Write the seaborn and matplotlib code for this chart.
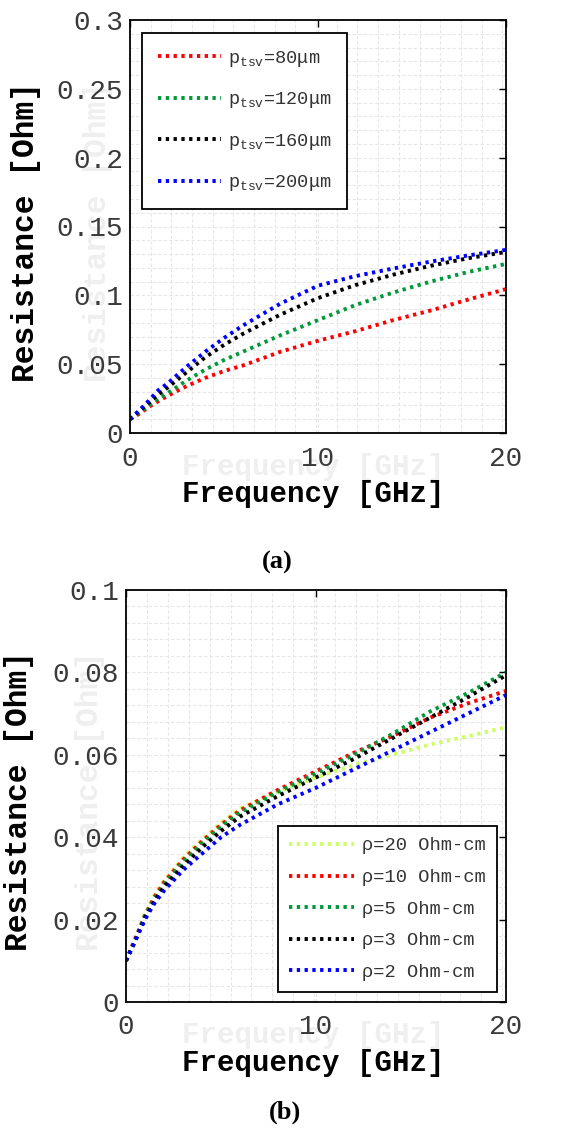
import matplotlib
matplotlib.use("Agg")
import matplotlib.pyplot as plt
import seaborn as sns
import pandas as pd
from matplotlib.ticker import FixedLocator, FixedFormatter, MultipleLocator

# ---------------- data ----------------
freq = [0, 0.5, 1, 1.5, 2, 3, 4, 5, 6, 8, 10, 12, 14, 16, 18, 20]

# panel (a): TSV pitch
a_labels = ["p$_{tsv}$=80μm", "p$_{tsv}$=120μm", "p$_{tsv}$=160μm", "p$_{tsv}$=200μm"]
a_p80 = [0.010, 0.014, 0.019, 0.023, 0.027, 0.034, 0.040, 0.045, 0.049, 0.059, 0.067, 0.074, 0.082, 0.089, 0.097, 0.1045]
a_p120 = [0.010, 0.015, 0.020, 0.025, 0.029, 0.038, 0.046, 0.053, 0.059, 0.071, 0.082, 0.093, 0.102, 0.110, 0.117, 0.1228]
a_p160 = [0.010, 0.016, 0.022, 0.028, 0.033, 0.044, 0.055, 0.064, 0.072, 0.086, 0.098, 0.1075, 0.115, 0.1215, 0.127, 0.1315]
a_p200 = [0.010, 0.0165, 0.0235, 0.031, 0.036, 0.048, 0.059, 0.069, 0.078, 0.094, 0.107, 0.114, 0.1195, 0.1245, 0.129, 0.133]
a_colors = ["#ff0000", "#00993a", "#000000", "#0000ff"]
a_yticks = [0, 0.05, 0.1, 0.15, 0.2, 0.25, 0.3]
a_yticklabels = ["0", "0.05", "0.1", "0.15", "0.2", "0.25", "0.3"]

# panel (b): substrate resistivity
b_labels = ["ρ=20 Ohm-cm", "ρ=10 Ohm-cm", "ρ=5 Ohm-cm", "ρ=3 Ohm-cm", "ρ=2 Ohm-cm"]
b_r20 = [0.010, 0.0155, 0.0215, 0.026, 0.0295, 0.035, 0.0395, 0.0435, 0.047, 0.051, 0.0545, 0.0575, 0.060, 0.0625, 0.0645, 0.0667]
b_r10 = [0.010, 0.0155, 0.021, 0.0255, 0.029, 0.0345, 0.039, 0.043, 0.0465, 0.0515, 0.056, 0.0605, 0.0645, 0.069, 0.0725, 0.0755]
b_r5 = [0.010, 0.015, 0.021, 0.025, 0.0285, 0.034, 0.0385, 0.0425, 0.046, 0.051, 0.0555, 0.060, 0.065, 0.0705, 0.075, 0.080]
b_r3 = [0.010, 0.015, 0.0205, 0.0245, 0.028, 0.033, 0.0375, 0.0415, 0.045, 0.050, 0.0545, 0.059, 0.064, 0.069, 0.074, 0.0793]
b_r2 = [0.010, 0.015, 0.020, 0.024, 0.027, 0.032, 0.036, 0.040, 0.043, 0.048, 0.052, 0.0565, 0.061, 0.0655, 0.070, 0.0745]
b_colors = ["#ccff66", "#ff0000", "#00993a", "#000000", "#0000ff"]
b_yticks = [0, 0.02, 0.04, 0.06, 0.08, 0.1]
b_yticklabels = ["0", "0.02", "0.04", "0.06", "0.08", "0.1"]

xticks = [0, 10, 20]
xticklabels = ["0", "10", "20"]
xlabel = "Frequency [GHz]"
ylabel = "Resistance [Ohm]"

# ---------------- style ----------------
sns.set_theme(style="white")
plt.rcParams["font.family"] = ["Liberation Mono", "DejaVu Sans Mono"]
plt.rcParams["mathtext.default"] = "regular"
plt.rcParams["mathtext.fontset"] = "custom"
plt.rcParams["mathtext.rm"] = "Liberation Mono"

fig = plt.figure(figsize=(5.72, 11.3), dpi=100)
W, H = 572, 1130


def make_axes(l, r, t, b):
    return fig.add_axes([l / W, 1 - b / H, (r - l) / W, (b - t) / H])


ax_a = make_axes(130, 506, 20, 433)
ax_b = make_axes(126, 506, 590, 1002)

dash = (0, (0.85, 1.15))


def draw(ax, series, labels, colors):
    for vals, lab, col in zip(series, labels, colors):
        df = pd.DataFrame({"f": freq, "r": vals})
        sns.lineplot(data=df, x="f", y="r", ax=ax, color=col, label=lab,
                     linewidth=2.8, linestyle=dash, solid_capstyle="butt",
                     dash_capstyle="butt", errorbar=None)


def style_axes(ax, yticks, yticklabels, ymax, yminor):
    ax.set_xlim(0, 20)
    ax.set_ylim(0, ymax)
    ax.xaxis.set_major_locator(FixedLocator(xticks))
    ax.xaxis.set_major_formatter(FixedFormatter(xticklabels))
    ax.yaxis.set_major_locator(FixedLocator(yticks))
    ax.yaxis.set_major_formatter(FixedFormatter(yticklabels))
    ax.xaxis.set_minor_locator(MultipleLocator(1.1))
    ax.yaxis.set_minor_locator(MultipleLocator(yminor))
    ax.grid(True, which="both", color="#e6e6e6", linestyle=(0, (3, 2)), linewidth=0.8)
    ax.set_axisbelow(True)
    ax.tick_params(which="major", direction="in", length=5, width=1.0, color="black",
                   top=True, right=True, labelsize=20, labelcolor="#3a3a3a")
    ax.tick_params(axis="x", which="major", pad=9)
    ax.tick_params(axis="y", which="major", pad=5)
    ax.tick_params(which="minor", length=0)
    for s in ax.spines.values():
        s.set_color("black")
        s.set_linewidth(1.3)
        s.set_visible(True)
    ax.set_xlabel("")
    ax.set_ylabel("")


draw(ax_a, [a_p80, a_p120, a_p160, a_p200], a_labels, a_colors)
draw(ax_b, [b_r20, b_r10, b_r5, b_r3, b_r2], b_labels, b_colors)
style_axes(ax_a, a_yticks, a_yticklabels, 0.3, 0.01)
style_axes(ax_b, b_yticks, b_yticklabels, 0.1, 0.004)

# legends
leg_a = ax_a.legend(loc="upper left", bbox_to_anchor=((142 - 130) / 376, (433 - 33) / 413),
                    borderaxespad=0, fancybox=False, framealpha=1, edgecolor="black",
                    fontsize=13.4, handlelength=3.4, labelspacing=1.15,
                    borderpad=0.85, handletextpad=0.38, labelcolor="#333333")
leg_a.get_frame().set_linewidth(1.3)
leg_b = ax_b.legend(loc="lower right", bbox_to_anchor=((497 - 126) / 380, (1002 - 992) / 412),
                    borderaxespad=0, fancybox=False, framealpha=1, edgecolor="black",
                    fontsize=13.5, handlelength=3.45, labelspacing=0.77,
                    borderpad=0.6, handletextpad=0.45, labelcolor="#333333")
leg_b.get_frame().set_linewidth(1.3)

# axis labels (faint duplicate + real)
bold = dict(fontweight="bold", family=["Liberation Mono", "DejaVu Sans Mono"])
ghost = "#efefef"
fig.text(313 / W, 1 - 467 / H, xlabel, ha="center", va="center", fontsize=21, color=ghost, zorder=-1, **bold)
fig.text(313 / W, 1 - 494 / H, xlabel, ha="center", va="center", fontsize=21, color="black", **bold)
fig.text(98 / W, 1 - 232 / H, ylabel, ha="center", va="center", rotation=90, fontsize=22.5, color=ghost, zorder=-1, **bold)
fig.text(26 / W, 1 - 232 / H, ylabel, ha="center", va="center", rotation=90, fontsize=22.5, color="black", **bold)

fig.text(313 / W, 1 - 1035 / H, xlabel, ha="center", va="center", fontsize=21, color=ghost, zorder=-1, **bold)
fig.text(313 / W, 1 - 1063 / H, xlabel, ha="center", va="center", fontsize=21, color="black", **bold)
fig.text(90 / W, 1 - 801 / H, ylabel, ha="center", va="center", rotation=90, fontsize=22.5, color=ghost, zorder=-1, **bold)
fig.text(19 / W, 1 - 801 / H, ylabel, ha="center", va="center", rotation=90, fontsize=22.5, color="black", **bold)

# captions
serif = dict(fontweight="bold", family=["Liberation Serif", "DejaVu Serif"])
fig.text(277 / W, 1 - 562 / H, "(a)", ha="center", va="center", fontsize=19, color="black", **serif)
fig.text(285 / W, 1 - 1112 / H, "(b)", ha="center", va="center", fontsize=19, color="black", **serif)

fig.savefig("out.png", dpi=100)
